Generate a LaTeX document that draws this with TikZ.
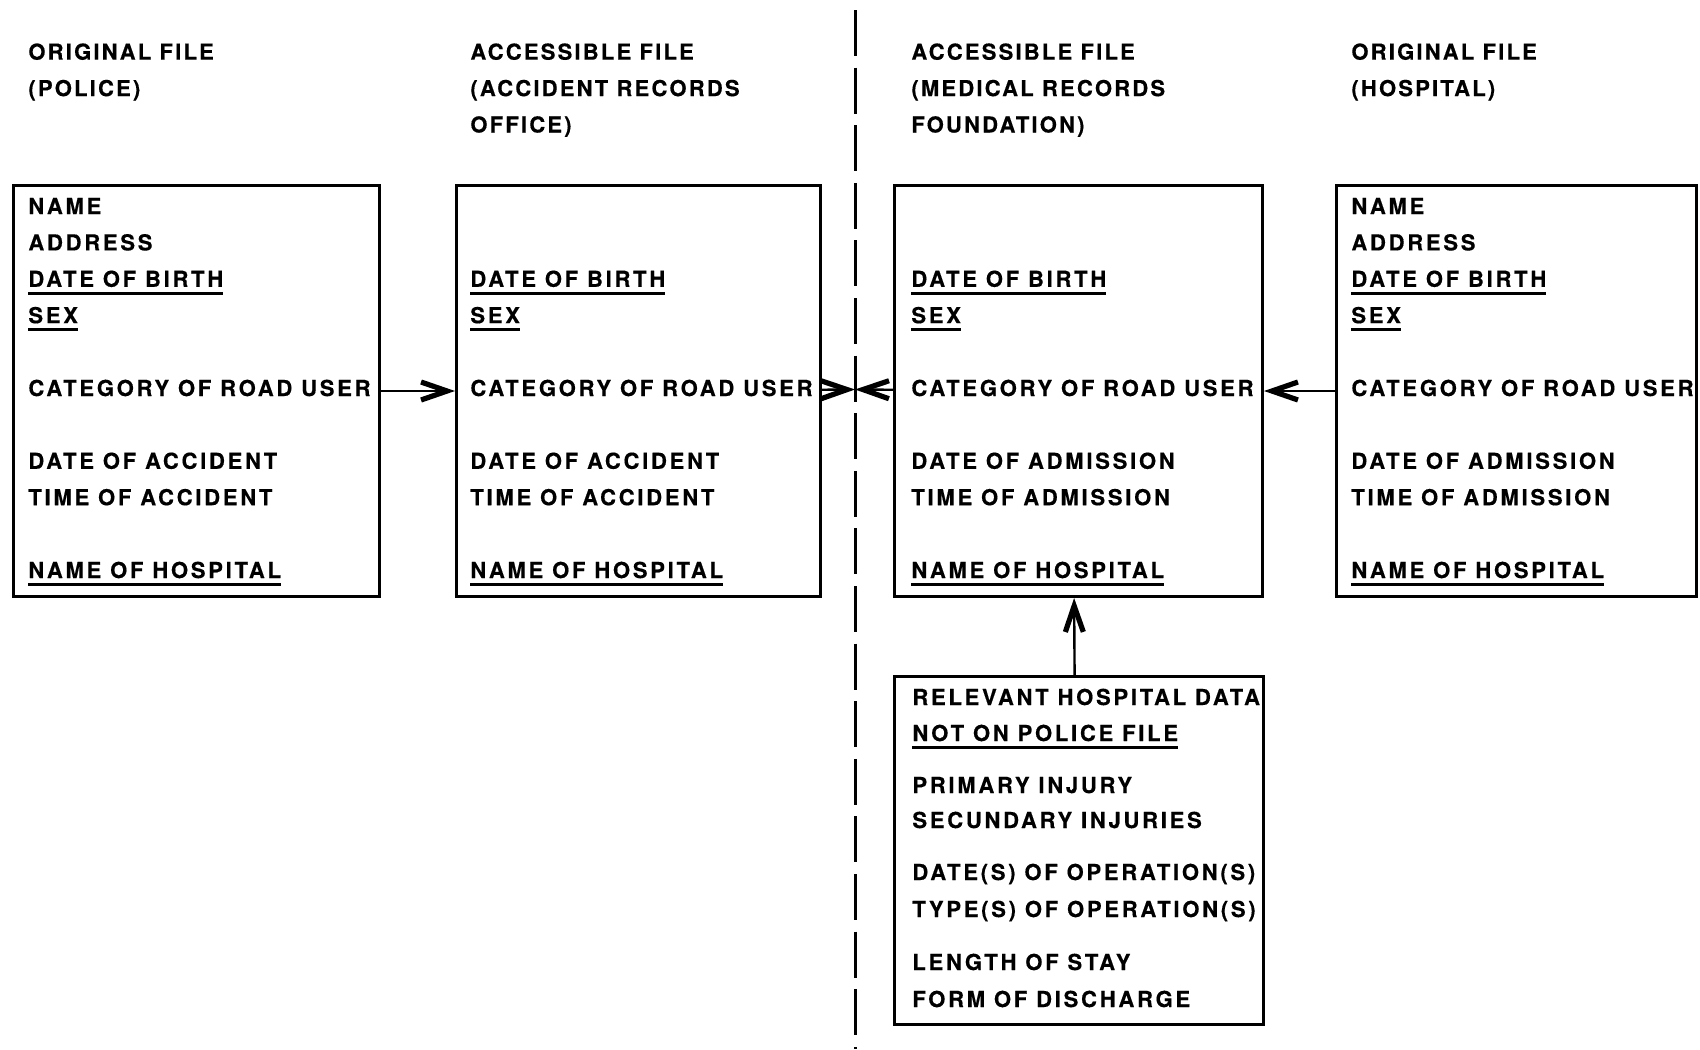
\documentclass[tikz,border=0pt]{standalone}
\usepackage{fontspec}
\setmainfont{TeX Gyre Heros}
\newfontfamily\rowfont{TeX Gyre Heros Bold}[LetterSpace=12.5, FakeBold=0.4]
\newfontfamily\headfont{TeX Gyre Heros Bold}[LetterSpace=10.0, FakeBold=0.4]
\usetikzlibrary{arrows.meta}

% underlined entry (the key fields shared by the files)
\newcommand\undl[1]{\setbox0\hbox{#1}\rlap{\vrule height -2.6pt depth 3.9pt width \wd0}\box0}

\begin{document}
\begin{tikzpicture}[x=0.5pt, y=-0.5pt,
    filebox/.style={draw, line width=1.5pt, inner sep=0pt, anchor=north west},
    row/.style={anchor=base west, inner sep=0pt, font=\rowfont\fontsize{11}{13}\selectfont},
    head/.style={anchor=north west, inner sep=0pt, align=left, font=\headfont\fontsize{11}{18.2}\selectfont},
    arr/.style={-{Straight Barb[length=13pt,width=9pt,line width=2.6pt]}, line width=1.2pt},
    divider/.style={line width=1.5pt, dash pattern=on 23pt off 5.8pt}]
    \useasboundingbox (0,0) rectangle (1700,1049);

    % headings
    \node[head] (head-police) at (28,43) {ORIGINAL FILE\\(POLICE)};
    \node[head] (head-accident) at (470,43) {ACCESSIBLE FILE\\(ACCIDENT RECORDS\\OFFICE)};
    \node[head] (head-medical) at (911,43) {ACCESSIBLE FILE\\(MEDICAL RECORDS\\FOUNDATION)};
    \node[head] (head-hospital) at (1351,43) {ORIGINAL FILE\\(HOSPITAL)};

    % the four files
    \node[filebox, minimum width=183pt, minimum height=205.5pt] (police) at (12,184) {};
    \node[filebox, minimum width=182pt, minimum height=205.5pt] (accident) at (455,184) {};
    \node[filebox, minimum width=184pt, minimum height=205.5pt] (medical) at (893,184) {};
    \node[filebox, minimum width=180pt, minimum height=205.5pt] (hospital) at (1335,184) {};
    \node[filebox, minimum width=184.5pt, minimum height=174pt] (hospdata) at (893,675) {};

    \foreach \r/\t in {0/NAME, 1/ADDRESS, 2/\undl{DATE OF BIRTH}, 3/\undl{SEX}, 5/CATEGORY OF ROAD USER,
                       7/DATE OF ACCIDENT, 8/TIME OF ACCIDENT, 10/\undl{NAME OF HOSPITAL}}
        \node[row] (police-\r) at ([shift={(16,30+36.4*\r)}]police.north west) {\t};
    \foreach \r/\t in {2/\undl{DATE OF BIRTH}, 3/\undl{SEX}, 5/CATEGORY OF ROAD USER,
                       7/DATE OF ACCIDENT, 8/TIME OF ACCIDENT, 10/\undl{NAME OF HOSPITAL}}
        \node[row] (accident-\r) at ([shift={(15,30+36.4*\r)}]accident.north west) {\t};
    \foreach \r/\t in {2/\undl{DATE OF BIRTH}, 3/\undl{SEX}, 5/CATEGORY OF ROAD USER,
                       7/DATE OF ADMISSION, 8/TIME OF ADMISSION, 10/\undl{NAME OF HOSPITAL}}
        \node[row] (medical-\r) at ([shift={(18,30+36.4*\r)}]medical.north west) {\t};
    \foreach \r/\t in {0/NAME, 1/ADDRESS, 2/\undl{DATE OF BIRTH}, 3/\undl{SEX}, 5/CATEGORY OF ROAD USER,
                       7/DATE OF ADMISSION, 8/TIME OF ADMISSION, 10/\undl{NAME OF HOSPITAL}}
        \node[row] (hospital-\r) at ([shift={(16,30+36.4*\r)}]hospital.north west) {\t};
    \foreach \y/\t [count=\i] in {30/RELEVANT HOSPITAL DATA, 66/\undl{NOT ON POLICE FILE},
                       118/PRIMARY INJURY, 153/SECUNDARY INJURIES,
                       205/DATE(S) OF OPERATION(S), 242/TYPE(S) OF OPERATION(S),
                       295/LENGTH OF STAY, 332/FORM OF DISCHARGE}
        \node[row] (hospdata-\i) at ([shift={(19,\y)}]hospdata.north west) {\t};

    % police side | medical side
    \draw[divider] (855,10) -- (855,1049);
    \coordinate (cross) at (855,389.5);

    \draw[arr] (police) -- (accident);
    \draw[arr] (accident) -- (cross);
    \draw[arr] (medical) -- (cross);
    \draw[arr] (hospital) -- (medical);
    \draw[arr] ([xshift=-2.2pt]hospdata.north) -- ([xshift=-2.2pt]medical.south);
\end{tikzpicture}
\end{document}
